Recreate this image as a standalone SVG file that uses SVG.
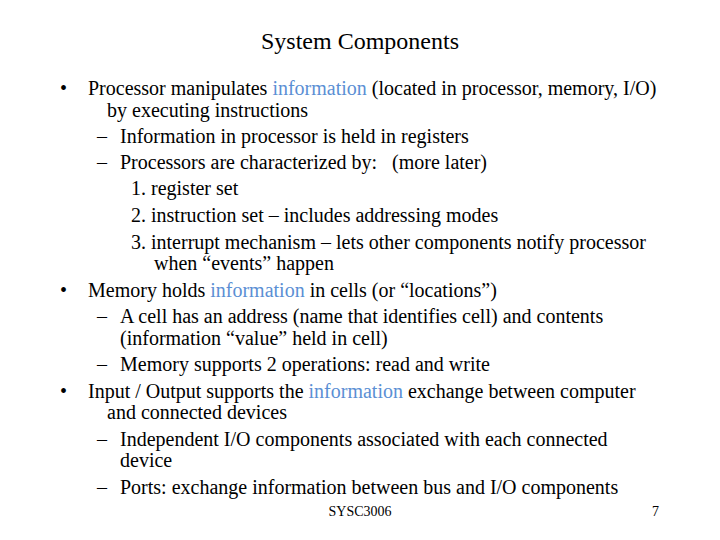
<svg xmlns="http://www.w3.org/2000/svg" width="720" height="540" viewBox="0 0 720 540">
<style>
text{font-family:"Liberation Serif","Times New Roman",serif;font-size:20px;fill:#000}
.t{font-size:24px}
.f{font-size:14px}
.b{fill:#5B8FD4}
</style>
<rect width="720" height="540" fill="#fff"/>
<text class="t" x="360" y="49" text-anchor="middle">System Components</text>
<g id="body">
<text x="60" y="95">•</text>
<text x="88" y="95">Processor manipulates <tspan class="b">information</tspan> (located in processor, memory, I/O)</text>
<text x="107" y="117">by executing instructions</text>
<text x="97" y="143">–</text><text x="120" y="143">Information in processor is held in registers</text>
<text x="97" y="169">–</text><text x="120" y="169" xml:space="preserve">Processors are characterized by:   (more later)</text>
<text x="131" y="195">1. register set</text>
<text x="131" y="222">2. instruction set – includes addressing modes</text>
<text x="131" y="249">3. interrupt mechanism – lets other components notify processor</text>
<text x="154" y="270">when “events” happen</text>
<text x="60" y="297">•</text>
<text x="88" y="297">Memory holds <tspan class="b">information</tspan> in cells (or “locations”)</text>
<text x="97" y="323">–</text><text x="120" y="323">A cell has an address (name that identifies cell) and contents</text>
<text x="120" y="345">(information “value” held in cell)</text>
<text x="97" y="371">–</text><text x="120" y="371">Memory supports 2 operations: read and write</text>
<text x="60" y="398">•</text>
<text x="88" y="398">Input / Output supports the <tspan class="b">information</tspan> exchange between computer</text>
<text x="107" y="419">and connected devices</text>
<text x="97" y="446">–</text><text x="120" y="446">Independent I/O components associated with each connected</text>
<text x="120" y="467">device</text>
<text x="97" y="494">–</text><text x="120" y="494">Ports: exchange information between bus and I/O components</text>
</g>
<text class="f" x="360" y="516" text-anchor="middle">SYSC3006</text>
<text class="f" x="659" y="516" text-anchor="end">7</text>
</svg>
